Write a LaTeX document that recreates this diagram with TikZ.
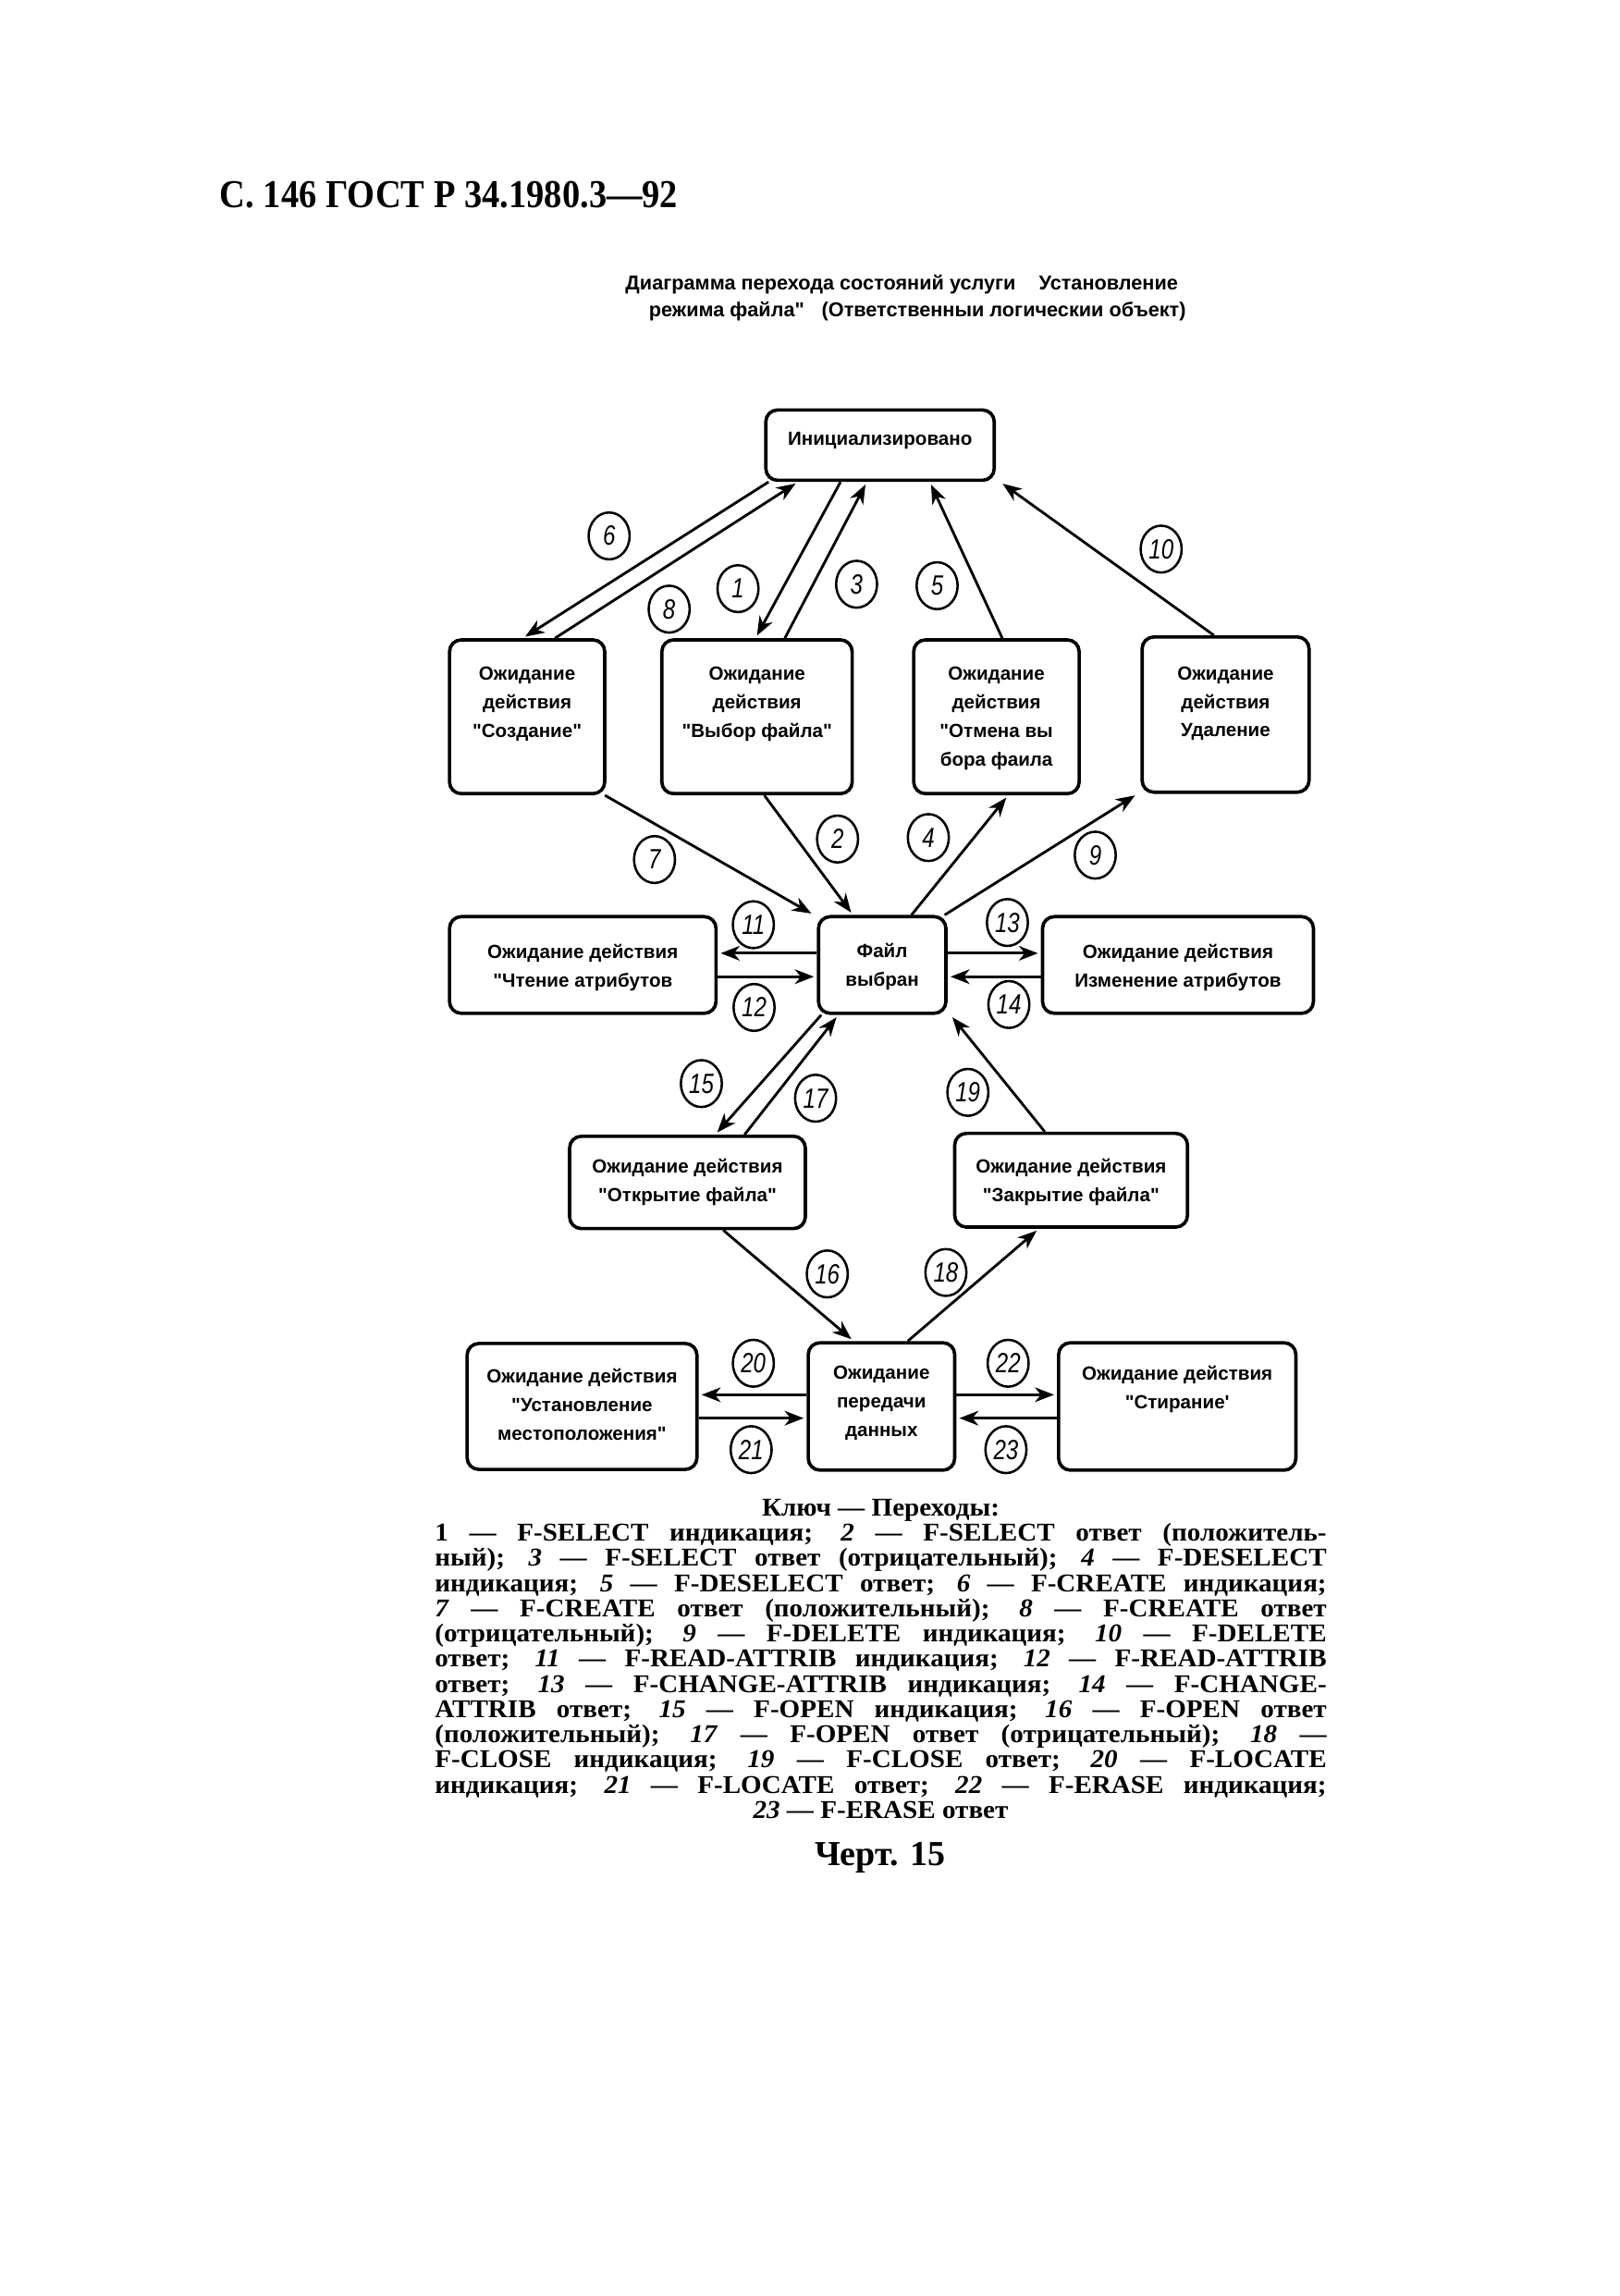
\documentclass[tikz,border=0pt]{standalone}
\usepackage{fontspec}
\setmainfont{Liberation Serif}
\newfontfamily\sansf{Liberation Sans}
\newfontfamily\hdrfam[FakeStretch=0.9]{Liberation Serif}
\newfontfamily\numfam[FakeStretch=0.8]{Liberation Sans}
\newfontfamily\legfam[FakeStretch=1.05]{Liberation Serif}
\usetikzlibrary{shapes.geometric,arrows.meta}
\tikzset{
  stbox/.style={draw, line width=2.3pt, rounded corners=8pt, inner sep=0pt},
  btxt/.style={font=\sansf\bfseries\fontsize{13}{19.5}\selectfont, align=center, inner sep=0pt},
  conn/.style={line width=1.8pt, -{Stealth[length=13pt,width=10pt,inset=4pt]}, shorten >=2pt},
  num/.style={draw, ellipse, line width=1.6pt, minimum width=28pt, minimum height=32pt, inner sep=0pt, font=\numfam\itshape\fontsize{19}{19}\selectfont},
  leg/.style={font=\legfam\bfseries\fontsize{17.5}{17.2}\selectfont, inner sep=0pt, anchor=base},
}
\begin{document}
\begin{tikzpicture}[x=1pt,y=-1pt]
\fill[white] (0,0) rectangle (1106,1568);
\useasboundingbox (0,0) rectangle (1106,1568);

% header and title
\node[font=\hdrfam\bfseries\fontsize{27}{27}\selectfont, anchor=base west, inner sep=0pt] (hdr) at (150,142) {С. 146 ГОСТ Р 34.1980.3—92};
\node[font=\sansf\bfseries\fontsize{13.7}{18}\selectfont, anchor=base west, inner sep=0pt] (ttl1) at (427,198) {Диаграмма перехода состояний услуги\hspace{12pt} Установление};
\node[font=\sansf\bfseries\fontsize{13.7}{18}\selectfont, anchor=base west, inner sep=0pt] (ttl2) at (443,216) {режима файла"\hspace{8pt} (Ответственныи логическии объект)};

% state boxes
\node[stbox, minimum width=156pt, minimum height=48pt] (init) at (601,304) {};
\node[btxt] (init-t) at (601,301) {Инициализировано};

\node[stbox, minimum width=106pt, minimum height=105pt] (soz) at (360,489.5) {};
\node[btxt] (soz-t) at (360,481) {Ожидание\\действия\\"Создание"};

\node[stbox, minimum width=130pt, minimum height=105pt] (vyb) at (517,489.5) {};
\node[btxt] (vyb-t) at (517,481) {Ожидание\\действия\\"Выбор файла"};

\node[stbox, minimum width=113pt, minimum height=105pt] (otm) at (680.5,489.5) {};
\node[btxt] (otm-t) at (680.5,490.5) {Ожидание\\действия\\"Отмена вы\\бора фаила};

\node[stbox, minimum width=114pt, minimum height=106pt] (udl) at (837,488) {};
\node[btxt] (udl-t) at (837,480.5) {Ожидание\\действия\\Удаление};

\node[stbox, minimum width=182pt, minimum height=66pt] (cht) at (398,659) {};
\node[btxt] (cht-t) at (398,661) {Ожидание действия\\"Чтение атрибутов};

\node[stbox, minimum width=87pt, minimum height=66pt] (fv) at (602.5,659) {};
\node[btxt] (fv-t) at (602.5,660) {Файл\\выбран};

\node[stbox, minimum width=185pt, minimum height=66pt] (izm) at (804.5,659) {};
\node[btxt] (izm-t) at (804.5,661) {Ожидание действия\\Изменение атрибутов};

\node[stbox, minimum width=161pt, minimum height=63pt] (otk) at (469.5,807.5) {};
\node[btxt] (otk-t) at (469.5,807.5) {Ожидание действия\\"Открытие файла"};

\node[stbox, minimum width=159pt, minimum height=64pt] (zak) at (731.5,806) {};
\node[btxt] (zak-t) at (731.5,807.5) {Ожидание действия\\"Закрытие файла"};

\node[stbox, minimum width=157pt, minimum height=86pt] (ust) at (397.5,960.5) {};
\node[btxt] (ust-t) at (397.5,959) {Ожидание действия\\"Установление\\местоположения"};

\node[stbox, minimum width=100pt, minimum height=87pt] (per) at (602,960.5) {};
\node[btxt] (per-t) at (602,958) {Ожидание\\передачи\\данных};

\node[stbox, minimum width=162pt, minimum height=87pt] (sti) at (804,960.5) {};
\node[btxt] (sti-t) at (804,949) {Ожидание действия\\"Стирание'};

% connectors
\draw[conn] ([xshift=3pt]init.south west) -- ([xshift=-3pt]soz.north);
\draw[conn] ([xshift=19pt]soz.north) -- ([xshift=-56pt]init.south);
\draw[conn] ([xshift=-27pt]init.south) -- ([xshift=-1pt]vyb.north);
\draw[conn] ([xshift=19pt]vyb.north) -- ([xshift=-9pt]init.south);
\draw[conn] ([xshift=4pt]otm.north) -- ([xshift=34pt]init.south);
\draw[conn] ([xshift=-8pt]udl.north) -- ([xshift=3pt]init.south east);

\draw[conn] ([xshift=-1pt]soz.south east) -- ([xshift=-2pt]fv.north west);
\draw[conn] ([xshift=5pt]vyb.south) -- ([xshift=-20pt]fv.north);
\draw[conn] ([xshift=20pt]fv.north) -- ([xshift=8pt]otm.south);
\draw[conn] ([xshift=-2pt]fv.north east) -- ([xshift=-2pt]udl.south west);

\draw[conn] ([yshift=8pt]fv.west) -- ([yshift=8pt]cht.east);
\draw[conn] ([yshift=-8pt]cht.east) -- ([yshift=-8pt]fv.west);
\draw[conn] ([yshift=8pt]fv.east) -- ([yshift=8pt]izm.west);
\draw[conn] ([yshift=-8pt]izm.west) -- ([yshift=-8pt]fv.east);

\draw[conn] ([xshift=3pt]fv.south west) -- ([xshift=19pt]otk.north);
\draw[conn] ([xshift=39pt]otk.north) -- ([xshift=-30pt]fv.south);
\draw[conn] ([xshift=-18pt]zak.north) -- ([xshift=2pt]fv.south east);

\draw[conn] ([xshift=24.5pt]otk.south) -- ([xshift=-19pt]per.north);
\draw[conn] ([xshift=18pt]per.north) -- ([xshift=-22pt]zak.south);

\draw[conn] ([yshift=8pt]per.west) -- ([yshift=8pt]ust.east);
\draw[conn] ([yshift=-8pt]ust.east) -- ([yshift=-8pt]per.west);
\draw[conn] ([yshift=8pt]per.east) -- ([yshift=8pt]sti.west);
\draw[conn] ([yshift=-8pt]sti.west) -- ([yshift=-8pt]per.east);

% circled transition numbers
\node[num] (n6) at (416,366) {6};
\node[num] (n8) at (457,416) {8};
\node[num] (n1) at (504,402) {1};
\node[num] (n3) at (585,399) {3};
\node[num] (n5) at (640,400) {5};
\node[num] (n10) at (793,375) {10};
\node[num] (n7) at (447,587) {7};
\node[num] (n2) at (572,573) {2};
\node[num] (n4) at (634,572) {4};
\node[num] (n9) at (748,584) {9};
\node[num] (n11) at (514.5,631.5) {11};
\node[num] (n12) at (515,688) {12};
\node[num] (n13) at (688,630) {13};
\node[num] (n14) at (689,686) {14};
\node[num] (n15) at (479,740) {15};
\node[num] (n17) at (557,750) {17};
\node[num] (n19) at (661,746) {19};
\node[num] (n16) at (565,870) {16};
\node[num] (n18) at (646,869) {18};
\node[num] (n20) at (514.5,931) {20};
\node[num] (n21) at (513,990) {21};
\node[num] (n22) at (688.5,931) {22};
\node[num] (n23) at (687,990) {23};

% key
\node[leg] (leg0) at (601.5,1035.5) {Ключ — Переходы:};
\node[leg] (leg1) at (601.5,1052.5) {\makebox[609pt][s]{1 — F-SELECT индикация; \textit{2} — F-SELECT ответ (положитель-}};
\node[leg] (leg2) at (601.5,1069.7) {\makebox[609pt][s]{ный); \textit{3} — F-SELECT ответ (отрицательный); \textit{4} — F-DESELECT}};
\node[leg] (leg3) at (601.5,1086.9) {\makebox[609pt][s]{индикация; \textit{5} — F-DESELECT ответ; \textit{6} — F-CREATE индикация;}};
\node[leg] (leg4) at (601.5,1104.1) {\makebox[609pt][s]{\textit{7} — F-CREATE ответ (положительный); \textit{8} — F-CREATE ответ}};
\node[leg] (leg5) at (601.5,1121.3) {\makebox[609pt][s]{(отрицательный); \textit{9} — F-DELETE индикация; \textit{10} — F-DELETE}};
\node[leg] (leg6) at (601.5,1138.5) {\makebox[609pt][s]{ответ; \textit{11} — F-READ-ATTRIB индикация; \textit{12} — F-READ-ATTRIB}};
\node[leg] (leg7) at (601.5,1155.7) {\makebox[609pt][s]{ответ; \textit{13} — F-CHANGE-ATTRIB индикация; \textit{14} — F-CHANGE-}};
\node[leg] (leg8) at (601.5,1172.9) {\makebox[609pt][s]{ATTRIB ответ; \textit{15} — F-OPEN индикация; \textit{16} — F-OPEN ответ}};
\node[leg] (leg9) at (601.5,1190.1) {\makebox[609pt][s]{(положительный); \textit{17} — F-OPEN ответ (отрицательный); \textit{18} —}};
\node[leg] (leg10) at (601.5,1207.3) {\makebox[609pt][s]{F-CLOSE индикация; \textit{19} — F-CLOSE ответ; \textit{20} — F-LOCATE}};
\node[leg] (leg11) at (601.5,1224.5) {\makebox[609pt][s]{индикация; \textit{21} — F-LOCATE ответ; \textit{22} — F-ERASE индикация;}};
\node[leg] (leg12) at (601.5,1241.7) {\textit{23} — F-ERASE ответ};
\node[font=\bfseries\fontsize{24}{24}\selectfont, anchor=base, inner sep=0pt] (chert) at (601,1274) {Черт. 15};
\end{tikzpicture}
\end{document}
